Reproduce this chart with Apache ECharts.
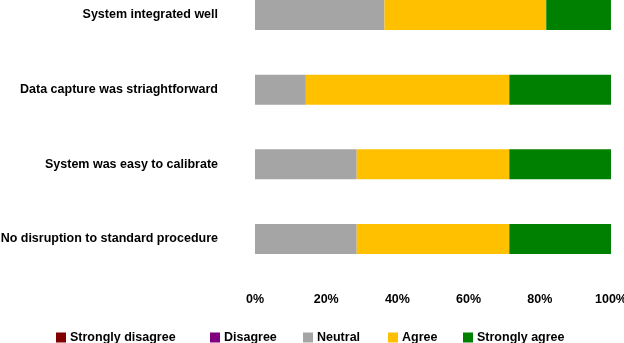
<!DOCTYPE html>
<html>
<head>
<meta charset="utf-8">
<script src="https://cdn.jsdelivr.net/npm/echarts@6/dist/echarts.min.js"></script>
<style>
html, body { margin: 0; padding: 0; background: #fff; }
#chart { width: 624px; height: 343px; }
</style>
</head>
<body>
<div id="chart"></div>
<script>
//题目
var categories = ['System integrated well', 'Data capture was striaghtforward', 'System was easy to calibrate', 'No disruption to standard procedure'];
//各等级百分比
var stronglyDisagree = [0, 0, 0, 0];
var disagree = [0, 0, 0, 0];
var neutral = [36.36, 14.29, 28.57, 28.57];
var agree = [45.45, 57.14, 42.86, 42.86];
var stronglyAgree = [18.18, 28.57, 28.57, 28.57];
var tickLabels = ['0%', '20%', '40%', '60%', '80%', '100%'];

var seriesNames = ['Strongly disagree', 'Disagree', 'Neutral', 'Agree', 'Strongly agree'];
var seriesData = [stronglyDisagree, disagree, neutral, agree, stronglyAgree];
var colors = ['#800000', '#800080', '#A5A5A5', '#FFC000', '#008000'];
var legendLeft = [56, 210, 303, 388, 463];

var font = 'Liberation Sans, Arial, Helvetica, sans-serif';

var chart = echarts.init(document.getElementById('chart'));

var series = [];
var legends = [];
seriesNames.forEach(function(name, i) {
	series.push({
		name: name,
		type: 'bar',
		stack: 'total',
		barWidth: 30,
		clip: false,
		data: seriesData[i],
		itemStyle: { color: colors[i] }
	});
	legends.push({
		data: [name],
		left: legendLeft[i],
		top: 331,
		padding: 0,
		itemWidth: 10,
		itemHeight: 10,
		itemGap: 0,
		icon: 'rect',
		textStyle: { fontFamily: font, fontWeight: 'bold', fontSize: 12.5, color: '#000', padding: [0, 0, 0, -1] },
		selectedMode: false
	});
});

var option = {
	color: colors,
	animation: false,
	grid: {
		left: 255,
		width: 356,
		top: 15,
		height: 224,
		outerBoundsMode: 'none'
	},
	legend: legends,
	xAxis: {
		type: 'value',
		min: 0,
		max: 100,
		interval: 20,
		axisLine: { show: false },
		axisTick: { show: false },
		splitLine: { show: false },
		axisLabel: {
			margin: 54,
			fontFamily: font,
			fontWeight: 'bold',
			fontSize: 12.5,
			color: '#000',
			formatter: function(v) {
				return tickLabels[Math.round(v / 20)];
			}
		}
	},
	yAxis: {
		type: 'category',
		inverse: true,
		boundaryGap: false,
		data: categories,
		axisLine: { show: false },
		axisTick: { show: false },
		axisLabel: {
			margin: 37,
			fontFamily: font,
			fontWeight: 'bold',
			fontSize: 12.5,
			color: '#000'
		}
	},
	series: series
};
chart.setOption(option);
</script>
</body>
</html>
